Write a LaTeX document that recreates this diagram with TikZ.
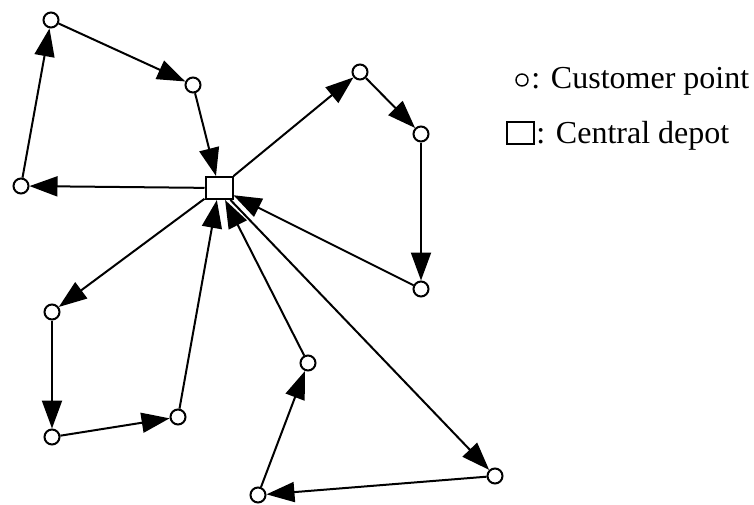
\documentclass[tikz,border=0pt]{standalone}
\usepackage{fontspec}
\setmainfont{Liberation Serif}
\usetikzlibrary{arrows.meta}

\begin{document}
\begin{tikzpicture}[x=0.5pt, y=-0.5pt,
    customer/.style={draw, circle, line width=1pt, inner sep=0pt, minimum size=7.5pt},
    depot/.style={draw, rectangle, line width=1pt, inner sep=0pt, minimum width=13.5pt, minimum height=11pt},
    route/.style={-{Triangle[length=14pt,width=10pt]}, line width=1pt},
    legend/.style={anchor=base west, inner sep=0pt, font=\fontsize{16}{19}\selectfont}]
    \useasboundingbox (0,0) rectangle (754,504);
    % depot and customers
    \node[depot] (dep) at (219,188) {};
    \node[customer] (p1) at (21,186) {};
    \node[customer] (p2) at (51,20) {};
    \node[customer] (p3) at (193,85) {};
    \node[customer] (p4) at (360,72) {};
    \node[customer] (p5) at (421,134) {};
    \node[customer] (p6) at (421,289) {};
    \node[customer] (p7) at (52,312) {};
    \node[customer] (p8) at (52,437) {};
    \node[customer] (p9) at (178,417) {};
    \node[customer] (p10) at (495,476) {};
    \node[customer] (p11) at (258,495) {};
    \node[customer] (p12) at (308,363) {};
    % routes
    \draw[route] (dep) -- (p1);
    \draw[route] (p1) -- (p2);
    \draw[route] (p2) -- (p3);
    \draw[route] (p3) -- (dep);
    \draw[route] (dep) -- (p4);
    \draw[route] (p4) -- (p5);
    \draw[route] (p5) -- (p6);
    \draw[route] (p6) -- (dep);
    \draw[route] (dep) -- (p7);
    \draw[route] (p7) -- (p8);
    \draw[route] (p8) -- (p9);
    \draw[route] (p9) -- (dep);
    \draw[route] (dep) -- (p10);
    \draw[route] (p10) -- (p11);
    \draw[route] (p11) -- (p12);
    \draw[route] (p12) -- (dep);
    % legend
    \node[draw, circle, line width=0.7pt, inner sep=0pt, minimum size=6pt] (lc) at (522,80) {};
    \node[legend] (lct) at (531,88) {: Customer point};
    \node[depot] (ld) at (520,133) {};
    \node[legend] (ldt) at (536,143) {: Central depot};
\end{tikzpicture}
\end{document}
